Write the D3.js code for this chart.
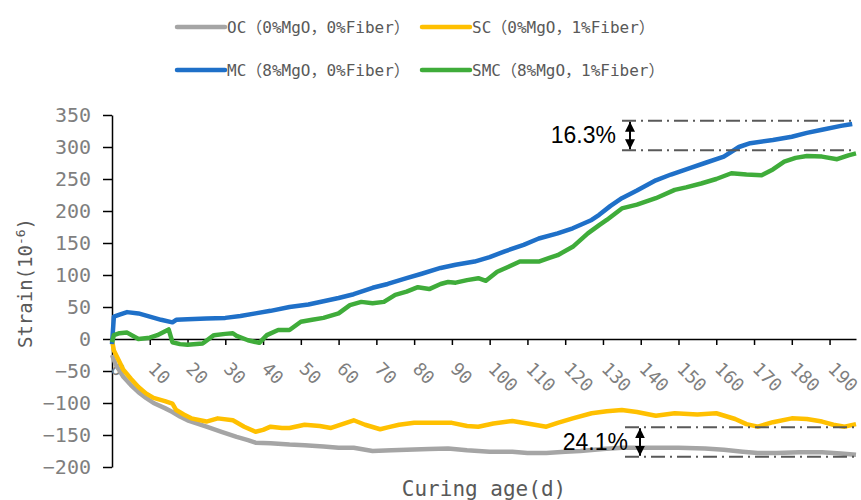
<!DOCTYPE html>
<html>
<head>
<meta charset="utf-8">
<script src="https://cdn.jsdelivr.net/npm/d3@7"></script>
<style>
  html, body { margin: 0; padding: 0; background: #fff; }
  svg { display: block; }
</style>
</head>
<body>
<svg id="chart"></svg>
<script>
// series: [day, strain 10^-6]
const ocData = [[0,-25],[1,-40],[3,-59],[5,-72],[7,-83],[9,-92],[11,-100],[14,-108],[16,-114],[18,-121],[20,-127],[23,-133],[25,-137],[29,-145],[33,-153],[36,-158],[38,-162],[42,-163],[47,-165],[51,-166],[56,-168],[60,-170],[64,-170],[69,-175],[74,-174],[78,-173],[84,-172],[89,-171],[94,-174],[100,-176],[106,-176],[110,-178],[115,-178],[120,-176],[124,-175],[130,-172],[135,-170],[142,-170],[150,-170],[157,-171],[162,-173],[167,-176],[171,-178],[176,-178],[182,-177],[188,-177],[193,-179],[197,-181]]
const scData = [[0,-2],[0.5,-18],[3,-48],[5,-62],[7,-75],[9,-85],[11,-92],[14,-97],[16,-101],[17,-111],[19,-118],[21,-124],[25,-129],[28,-124],[32,-127],[35,-137],[38,-145],[40,-142],[42,-137],[45,-139],[47,-139],[51,-134],[55,-136],[58,-139],[61,-133],[64,-127],[67,-134],[71,-141],[73,-138],[76,-134],[80,-131],[85,-131],[90,-131],[94,-136],[97,-137],[101,-132],[106,-128],[110,-132],[115,-137],[118,-131],[122,-124],[127,-116],[131,-113],[135,-111],[139,-114],[144,-120],[149,-116],[155,-118],[160,-116],[165,-125],[168,-133],[171,-137],[175,-130],[180,-124],[184,-125],[188,-129],[191,-134],[194,-137],[197,-133]]
const mcData = [[0,-8],[0.5,35],[2,38],[4,42],[7,40],[10,35],[13,30],[16,26],[17,30],[20,31],[25,32],[30,33],[34,36],[38,40],[42,44],[47,50],[52,54],[56,59],[60,64],[64,70],[69,80],[73,86],[78,95],[82,102],[87,111],[91,116],[96,121],[100,128],[104,137],[109,147],[113,157],[118,165],[122,173],[127,186],[129,194],[132,208],[135,220],[139,232],[144,248],[148,257],[153,267],[157,275],[162,285],[166,300],[169,306],[175,311],[180,316],[184,322],[188,327],[193,333],[196,336]]
const smcData = [[0,-5],[0.5,6],[2,9],[4,10],[7,0],[10,2],[12,6],[15,15],[16,-5],[18,-8],[20,-9],[24,-7],[27,6],[30,8],[32,9],[33,5],[36,-2],[39,-6],[41,6],[44,14],[47,14],[50,27],[53,30],[56,33],[60,40],[63,53],[66,58],[69,56],[72,58],[75,69],[78,74],[81,81],[84,78],[87,86],[89,89],[91,88],[94,92],[97,95],[99,91],[102,105],[105,113],[108,121],[113,121],[116,127],[118,131],[122,144],[126,165],[129,178],[131,186],[135,204],[139,210],[144,220],[149,233],[152,237],[156,243],[160,250],[164,259],[168,257],[172,256],[175,265],[178,277],[181,283],[184,286],[188,285],[192,281],[195,287],[197,290]]

const seriesNames = ['OC（0%MgO，0%Fiber）', 'SC（0%MgO，1%Fiber）', 'MC（8%MgO，0%Fiber）', 'SMC（8%MgO，1%Fiber）']
const seriesColors = ['#a5a5a5', '#ffc000', '#1f70c8', '#3fac3a']
const yTicks = [350, 300, 250, 200, 150, 100, 50, 0, -50, -100, -150, -200]
const xTicks = d3.range(0, 191, 10)
// annotation levels (strain) and labels
const topGap = [341, 295], topLabel = '16.3%'
const bottomGap = [-138, -184], bottomLabel = '24.1%'

const w = 861, h = 500
const mono = '"DejaVu Sans Mono", "Noto Sans CJK SC", monospace'

const svg = d3.select('#chart').attr('width', w).attr('height', h)

const x = d3.scaleLinear().domain([0, 197]).range([112, 856])
const y = d3.scaleLinear().domain([-200, 350]).range([467, 115])

// arrow heads
const defs = svg.append('defs')
defs.append('marker')
  .attr('id', 'head')
  .attr('viewBox', '0 0 10 10')
  .attr('refX', 10).attr('refY', 5)
  .attr('markerWidth', 10).attr('markerHeight', 10)
  .attr('markerUnits', 'userSpaceOnUse')
  .attr('orient', 'auto-start-reverse')
  .append('path').attr('d', 'M0,0 L10,5 L0,10 Z').attr('fill', '#000')

// y axis
const yAxis = svg.append('g')
  .attr('transform', `translate(${x(0)},0)`)
  .call(d3.axisLeft(y).tickValues(yTicks).tickSize(9).tickPadding(12).tickSizeOuter(0))
yAxis.select('.domain').attr('stroke', '#000').attr('stroke-width', 1.5)
yAxis.selectAll('.tick line').attr('stroke', '#000').attr('stroke-width', 1.5)
yAxis.selectAll('text')
  .style('font-family', mono).style('font-size', '20px').attr('fill', '#7f7f7f')

// x axis along zero
const xAxis = svg.append('g')
  .attr('transform', `translate(0,${y(0)})`)
  .call(d3.axisBottom(x).tickValues(xTicks).tickSize(6).tickSizeOuter(0))
xAxis.select('.domain').attr('stroke', '#000').attr('stroke-width', 1.5)
xAxis.selectAll('.tick line').attr('stroke', '#000').attr('stroke-width', 1.5)
xAxis.selectAll('text')
  .attr('y', 0).attr('dy', null)
  .attr('text-anchor', 'start')
  .attr('transform', 'translate(-3,31) rotate(45)')
  .style('font-family', mono).style('font-size', '18px').attr('fill', '#7f7f7f')

// lines
const line = d3.line().x(d => x(d[0])).y(d => y(d[1]))
const allSeries = [ocData, scData, mcData, smcData]
svg.append('g').selectAll('path')
  .data(allSeries)
  .join('path')
  .attr('d', line)
  .attr('fill', 'none')
  .attr('stroke', (d, i) => seriesColors[i])
  .attr('stroke-width', 4.5)
  .attr('stroke-linejoin', 'round')

// dash-dot guide lines and arrows
const drawGap = (vals, xStart, arrowX, label, labelX) => {
  vals.forEach(v => {
    svg.append('line')
      .attr('x1', xStart).attr('x2', 856)
      .attr('y1', y(v)).attr('y2', y(v))
      .attr('stroke', '#595959').attr('stroke-width', 2)
      .attr('stroke-dasharray', '14,5,2,5')
  })
  svg.append('line')
    .attr('x1', arrowX).attr('x2', arrowX)
    .attr('y1', y(vals[0]) + 1).attr('y2', y(vals[1]) - 1)
    .attr('stroke', '#000').attr('stroke-width', 2)
    .attr('marker-start', 'url(#head)').attr('marker-end', 'url(#head)')
  svg.append('text')
    .attr('x', labelX).attr('y', (y(vals[0]) + y(vals[1])) / 2 + 8)
    .attr('text-anchor', 'end')
    .style('font-family', '"Liberation Sans", Arial, sans-serif').style('font-size', '23px')
    .attr('fill', '#000')
    .text(label)
}
drawGap(topGap, 622, 630, topLabel, 616)
drawGap(bottomGap, 625, 640, bottomLabel, 628)

// axis titles
svg.append('text')
  .attr('transform', `translate(32,${(y(350) + y(-200)) / 2 - 8}) rotate(-90)`)
  .attr('text-anchor', 'middle')
  .style('font-family', mono).style('font-size', '19px').attr('fill', '#595959')
  .call(t => {
    t.append('tspan').text('Strain(10')
    t.append('tspan').text('-6').attr('dy', -7).style('font-size', '13px')
    t.append('tspan').text(')').attr('dy', 7)
  })

svg.append('text')
  .attr('x', (x(0) + 856) / 2).attr('y', 496)
  .attr('text-anchor', 'middle')
  .style('font-family', mono).style('font-size', '21px').attr('fill', '#595959')
  .text('Curing age(d)')

// legend
const legendPos = [[177, 27], [422, 27], [177, 70], [422, 70]]
const legend = svg.append('g').selectAll('g')
  .data(seriesNames)
  .join('g')
  .attr('transform', (d, i) => `translate(${legendPos[i][0]},${legendPos[i][1]})`)
legend.append('line')
  .attr('x1', 0).attr('x2', 48)
  .attr('stroke', (d, i) => seriesColors[i])
  .attr('stroke-width', 4.5).attr('stroke-linecap', 'round')
legend.append('text')
  .attr('x', 50).attr('dy', '0.35em')
  .style('font-family', mono).style('font-size', '16px').attr('fill', '#595959')
  .text(d => d)
</script>
</body>
</html>
